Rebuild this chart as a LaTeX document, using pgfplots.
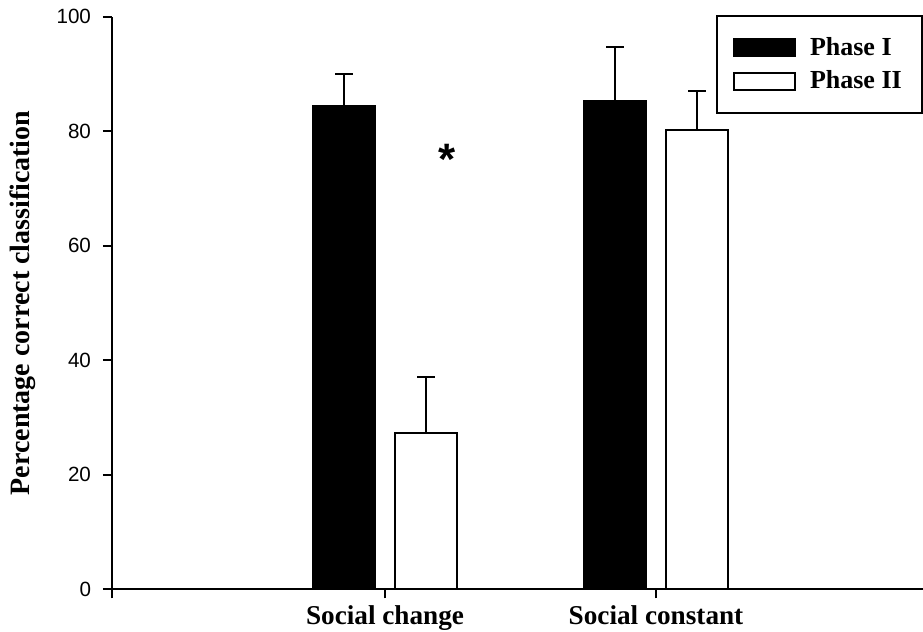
\documentclass[border=0pt]{standalone}
\usepackage{fontspec}
\setmainfont{Liberation Serif}
\newfontfamily\sansf{Liberation Sans}
\usepackage{pgfplots}
\pgfplotsset{compat=1.18}
\begin{document}
\begin{tikzpicture}
\path[use as bounding box] (-56bp,-21.35bp) rectangle (405.5bp,294.65bp);
\begin{axis}[
  scale only axis, width=405.5bp, height=286.3bp,
  xmin=-0.0074, xmax=2.9852, ymin=0, ymax=100,
  axis x line*=bottom, axis y line*=left,
  axis line style={line width=1bp,-},
  x axis line style={-}, y axis line style={-},
  ybar=10bp, bar width=31bp,
  xtick={-0.0074,1,2}, xticklabels={,Social change,Social constant},
  ytick={0,20,40,60,80,100},
  tick align=outside, major tick length=4.5bp,
  tick style={line width=1bp,black},
  /pgf/number format/assume math mode=true,
  yticklabel style={font=\sansf\fontsize{10.3bp}{12bp}\selectfont, xshift=-2.5bp},
  xticklabel style={font=\bfseries\fontsize{13.6bp}{16bp}\selectfont},
  every axis y label/.style={at={(axis description cs:-0.10234,0.5)},rotate=90,anchor=base},
  ylabel={Percentage correct classification},
  ylabel style={font=\bfseries\fontsize{14bp}{16bp}\selectfont},
  legend style={at={(axis description cs:0.7448,1.003)}, anchor=north west,
    draw=black, line width=1bp, inner xsep=8bp, inner ysep=8.75bp, row sep=2.25bp,
    font=\bfseries\fontsize{13bp}{15bp}\selectfont},
  legend cell align=left,
  legend image code/.code={\draw[#1, line width=1bp] (0bp,-4.25bp) rectangle (30.5bp,4.25bp); \path (35.5bp,0bp);},
]
\addplot[fill=black, draw=black, line width=1bp,
  error bars/.cd, y dir=plus, y explicit, error mark=|,
  error bar style={line width=1bp, black},
  error mark options={line width=1bp, mark size=4.5bp, black}]
  coordinates {(1,84.4) +- (0,5.6) (2,85.2) +- (0,9.5)};
\addplot[fill=white, draw=black, line width=1bp,
  error bars/.cd, y dir=plus, y explicit, error mark=|,
  error bar style={line width=1bp, black},
  error mark options={line width=1bp, mark size=4.5bp, black}]
  coordinates {(1,27.3) +- (0,9.7) (2,80.2) +- (0,6.9)};
\legend{Phase I, Phase II}
\node[font=\sansf\bfseries\fontsize{22bp}{22bp}\selectfont, anchor=base, inner sep=0pt] at (axis cs:1.229,72.4) {*};
\end{axis}
\end{tikzpicture}
\end{document}
